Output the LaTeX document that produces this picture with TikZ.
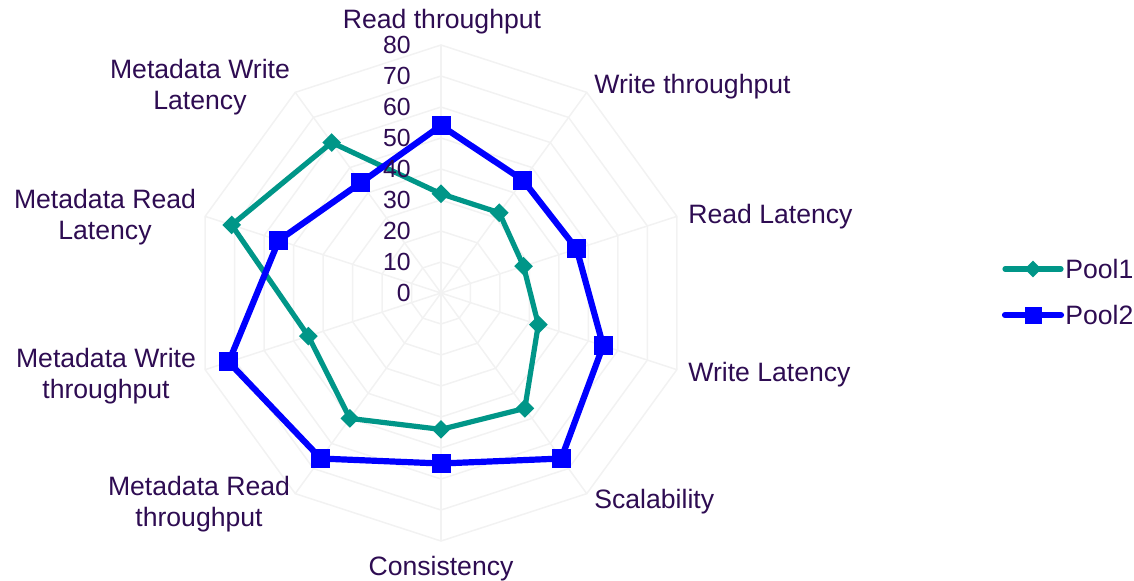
\documentclass[tikz,border=0pt]{standalone}
\usepackage{fontspec}
\setmainfont{Liberation Sans}
\usetikzlibrary{shapes.geometric}
\definecolor{labeltext}{RGB}{46,12,82}
\definecolor{poolteal}{RGB}{0,150,136}
\definecolor{poolblue}{RGB}{0,0,255}
\definecolor{gridgrey}{RGB}{242,242,242}
\begin{document}
\begin{tikzpicture}[x=0.5pt,y=0.5pt,
    grid line/.style={draw=gridgrey, line width=0.75pt},
    axis label/.style={text=labeltext, font=\fontsize{13.3}{15.5}\selectfont, inner sep=0pt, align=center},
    tick label/.style={text=labeltext, font=\fontsize{12.4}{14}\selectfont, inner sep=0pt, anchor=east},
    pool one/.style={draw=poolteal, line width=2.6pt, line join=round},
    pool two/.style={draw=poolblue, line width=3.1pt, line join=round},
    dia/.style={diamond, fill=poolteal, inner sep=0pt, minimum size=9.5pt},
    sq/.style={rectangle, fill=poolblue, inner sep=0pt, minimum size=9.5pt}]
    \useasboundingbox (-441,-287) rectangle (693,293);
    \coordinate (c) at (0,0);

    % grid
    \foreach \v in {10,20,...,80}
        \draw[grid line] (90:{\v*3.1}) \foreach \i in {1,...,9} { -- ({90-36*\i}:{\v*3.1}) } -- cycle;
    \foreach \i in {0,...,9} {
        \coordinate (sp\i) at ({90-36*\i}:248);
        \draw[grid line] (c) -- (sp\i);
    }

    % Pool1
    \foreach \v [count=\i from 0] in {32,32,28,33,46,44,50,45,71,60}
        \coordinate (a\i) at ({90-36*\i}:{\v*3.1});
    \draw[pool one] (a0) -- (a1) -- (a2) -- (a3) -- (a4) -- (a5) -- (a6) -- (a7) -- (a8) -- (a9) -- cycle;
    \foreach \i in {0,...,9} \node[dia] (ma\i) at (a\i) {};

    % Pool2
    \foreach \v [count=\i from 0] in {54,45,46,55,66,55,66,72,55,44}
        \coordinate (b\i) at ({90-36*\i}:{\v*3.1});
    \draw[pool two] (b0) -- (b1) -- (b2) -- (b3) -- (b4) -- (b5) -- (b6) -- (b7) -- (b8) -- (b9) -- cycle;
    \foreach \i in {0,...,9} \node[sq] (mb\i) at (b\i) {};

    % scale
    \foreach \v in {0,10,...,80}
        \node[tick label] (t\v) at (-30,{\v*3.1}) {\v};

    % axis names
    \node[axis label, anchor=north] (lrt) at (1,284) {Read throughput};
    \node[axis label, anchor=north west] (lwt) at (153,219) {Write throughput};
    \node[axis label, anchor=north west] (lrl) at (247,89) {Read Latency};
    \node[axis label, anchor=north west] (lwl) at (247,-69) {Write Latency};
    \node[axis label, anchor=north west] (lsc) at (153,-196) {Scalability};
    \node[axis label, anchor=north] (lco) at (0,-263) {Consistency};
    \node[axis label, anchor=north] (lmrt) at (-242,-183) {Metadata Read\\throughput};
    \node[axis label, anchor=north] (lmwt) at (-335,-55) {Metadata Write\\throughput};
    \node[axis label, anchor=north] (lmrl) at (-336,104) {Metadata Read\\Latency};
    \node[axis label, anchor=north] (lmwl) at (-241,234) {Metadata Write\\Latency};

    % legend
    \coordinate (ka1) at (564,24);
    \coordinate (kb1) at (620,24);
    \draw[pool one, line cap=round] (ka1) -- (kb1);
    \node[dia, minimum size=8.5pt] (kd1) at (592,24) {};
    \node[axis label, anchor=west] (kp1) at (624,24) {Pool1};
    \coordinate (ka2) at (564,-22);
    \coordinate (kb2) at (620,-22);
    \draw[pool two, line cap=round] (ka2) -- (kb2);
    \node[sq, minimum size=8.5pt] (kd2) at (592,-22) {};
    \node[axis label, anchor=west] (kp2) at (624,-22) {Pool2};
\end{tikzpicture}
\end{document}
